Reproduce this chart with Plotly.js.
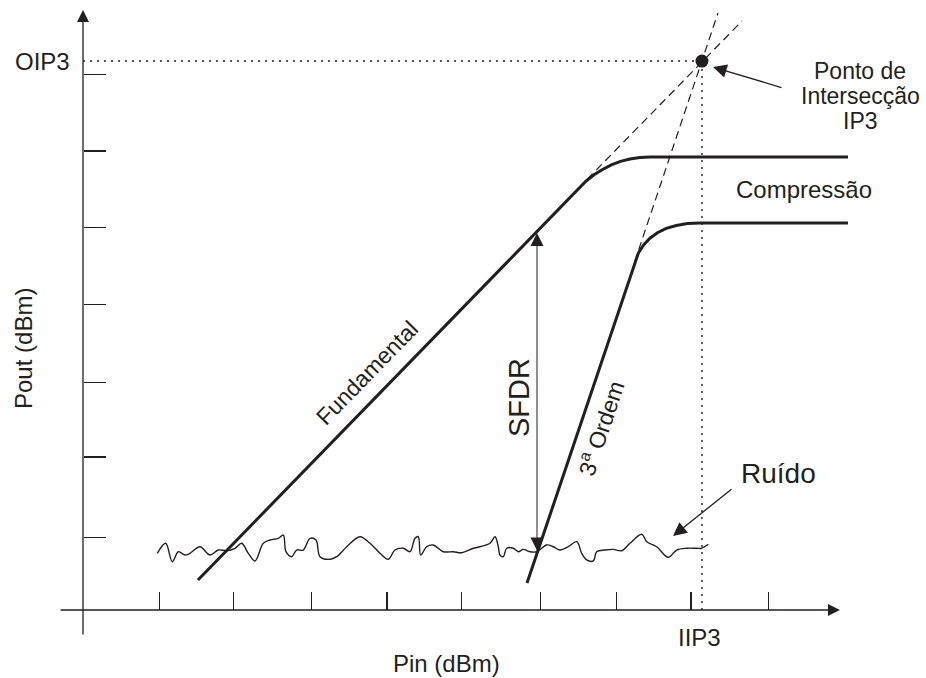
<!DOCTYPE html>
<html>
<head>
<meta charset="utf-8">
<script src="https://cdn.plot.ly/plotly-3.0.1.min.js"></script>
<style>html,body{margin:0;padding:0;background:#fff;}#chart{width:926px;height:678px;}</style>
</head>
<body>
<div id="chart"></div>
<script>
// ---- values (axis units: 1 tick step) ----
const IIP3 = 8.123;
const OIP3 = 7.176;

const xTickVals = [1, 1.97, 3, 3.99, 4.97, 6, 7, 7.98, 9];
const yTickVals = [0.95, 2, 2.97, 3.99, 5, 6, 7];

const fundamentalX = [1.509, 6.496, 6.600, 6.706, 6.818, 6.934, 7.054, 7.178, 7.307, 7.441, 10.039];
const fundamentalY = [0.392, 5.508, 5.605, 5.689, 5.759, 5.818, 5.864, 5.895, 5.915, 5.922, 5.922];

const thirdX = [5.827, 7.239, 7.289, 7.357, 7.440, 7.539, 7.654, 7.786, 7.933, 8.097, 10.039];
const thirdY = [0.353, 4.549, 4.668, 4.773, 4.860, 4.931, 4.988, 5.027, 5.051, 5.059, 5.059];

const fundExtX = [6.496, 8.648];
const fundExtY = [5.508, 7.699];
const thirdExtX = [7.239, 8.333];
const thirdExtY = [4.549, 7.804];

const noiseX = [0.975,1.085,1.172,1.251,1.339,1.404,1.535,1.667,1.776,1.886,1.995,2.083,2.169,2.257,2.366,2.454,2.563,2.629,2.664,2.739,2.804,2.891,2.979,3.058,3.110,3.241,3.329,3.461,3.635,3.766,3.898,4.007,4.094,4.203,4.291,4.357,4.400,4.432,4.510,4.597,4.728,4.860,4.970,5.122,
  5.210,5.341,5.407,5.450,5.472,5.516,5.560,5.647,5.713,5.778,5.866,5.954,6.085,6.172,6.260,6.369,6.479,6.545,6.610,6.697,6.741,6.850,6.959,7.070,7.178,7.332,7.398,7.529,7.681,7.791,7.923,8.054,8.119,8.206];
const noiseY = [0.741,0.872,0.631,0.762,0.719,0.741,0.827,0.719,0.784,0.775,0.807,0.872,0.741,0.641,0.872,0.915,0.937,0.980,0.762,0.697,0.784,0.784,0.937,0.915,0.697,0.663,0.697,0.827,0.958,0.872,0.741,0.663,0.784,0.807,0.762,0.937,0.958,0.719,0.827,0.850,0.762,0.762,0.749,0.807,
  0.827,0.872,0.958,0.827,0.719,0.697,0.807,0.807,0.762,0.793,0.762,0.762,0.850,0.827,0.784,0.827,0.893,0.741,0.654,0.641,0.762,0.784,0.793,0.775,0.872,0.990,0.893,0.827,0.689,0.784,0.807,0.807,0.807,0.859];

const sfdrTop = 4.928, sfdrBottom = 0.758, sfdrX = 5.958;

const ipLabelLines = ['Ponto de', 'Intersecção', 'IP3'];

// ---- drawing ----
const INK = '#231f20';
const FONT = 'Liberation Sans, Arial, Helvetica, sans-serif';
const xr = [-1.0892, 11.063];
const yr = [-0.8889, 7.9739];

const traces = [
  {x: noiseX, y: noiseY, mode: 'lines', line: {color: INK, width: 1.4, shape: 'spline', smoothing: 1}},
  {x: fundExtX, y: fundExtY, mode: 'lines', line: {color: INK, width: 1.2, dash: '8px,5px'}},
  {x: thirdExtX, y: thirdExtY, mode: 'lines', line: {color: INK, width: 1.2, dash: '8px,5px'}},
  {x: [0, IIP3], y: [OIP3, OIP3], mode: 'lines', line: {color: INK, width: 1.4, dash: '2px,5px'}},
  {x: [IIP3, IIP3], y: [0, OIP3], mode: 'lines', line: {color: INK, width: 1.4, dash: '2px,5px'}},
  {x: fundamentalX, y: fundamentalY, mode: 'lines', name: 'Fundamental', line: {color: INK, width: 3}},
  {x: thirdX, y: thirdY, mode: 'lines', name: '3ª Ordem', line: {color: INK, width: 3}},
  {x: [IIP3], y: [OIP3], mode: 'markers', marker: {color: INK, size: 13}}
];

function lbl(x, y, text, size, angle) {
  return {x: x, y: y, xref: 'x', yref: 'y', text: text, showarrow: false,
          textangle: angle || 0, font: {family: FONT, size: size, color: INK},
          xanchor: 'center', yanchor: 'middle'};
}
function arr(x, y, ax, ay, w, s, extra) {
  return Object.assign({x: x, y: y, ax: ax, ay: ay, xref: 'x', yref: 'y', axref: 'x', ayref: 'y',
          text: '', showarrow: true, arrowhead: 2, arrowsize: s, arrowwidth: w, arrowcolor: INK}, extra || {});
}

const annotations = [
  // axes with arrowheads
  arr(9.934, 0, -0.315, 0, 1.3, 1.85),
  arr(0, 7.843, 0, -0.340, 1.3, 1.85),
  // SFDR double arrow
  arr(sfdrX, sfdrTop, sfdrX, sfdrBottom, 1, 2.6, {arrowside: 'end+start', startarrowhead: 2, startarrowsize: 2.6}),
  // pointers
  arr(8.268, 7.098, 9.186, 6.824, 1.3, 2.1),
  arr(7.743, 0.967, 8.530, 1.595, 1.3, 2.1),
  // labels
  lbl(-0.525, OIP3, 'OIP3', 24),
  lbl(IIP3 - 0.03, -0.353, 'IIP3', 24),
  lbl(4.764, -0.693, 'Pin (dBm)', 24),
  lbl(-0.774, 3.412, 'Pout (dBm)', 24, -90),
  lbl(3.727, 3.098, 'Fundamental', 23, -45.8),
  lbl(5.722, 2.771, 'SFDR', 29, -90),
  lbl(6.785, 2.379, '3<sup>a</sup> Ordem', 23, -71.5),
  lbl(9.462, 5.503, 'Compressão', 24),
  lbl(10.197, 7.046, ipLabelLines[0], 23),
  lbl(10.197, 6.719, ipLabelLines[1], 23),
  lbl(10.197, 6.392, ipLabelLines[2], 23),
  lbl(9.121, 1.778, 'Ruído', 28)
];

const layout = {
  width: 926, height: 678,
  margin: {l: 0, r: 0, t: 0, b: 0, pad: 0},
  paper_bgcolor: '#ffffff', plot_bgcolor: '#ffffff',
  showlegend: false, hovermode: false,
  font: {family: FONT, color: INK},
  xaxis: {range: xr, anchor: 'free', position: (0 - yr[0]) / (yr[1] - yr[0]),
          tickmode: 'array', tickvals: xTickVals, ticks: 'inside', ticklen: 18, tickwidth: 1.2, tickcolor: INK,
          showticklabels: false, showline: false, showgrid: false, zeroline: false, fixedrange: true},
  yaxis: {range: yr, anchor: 'free', position: (0 - xr[0]) / (xr[1] - xr[0]),
          tickmode: 'array', tickvals: yTickVals, ticks: 'inside', ticklen: 22, tickwidth: 1.2, tickcolor: INK,
          showticklabels: false, showline: false, showgrid: false, zeroline: false, fixedrange: true},
  annotations: annotations
};

Plotly.newPlot('chart', traces, layout, {displayModeBar: false, staticPlot: true});
</script>
</body>
</html>
